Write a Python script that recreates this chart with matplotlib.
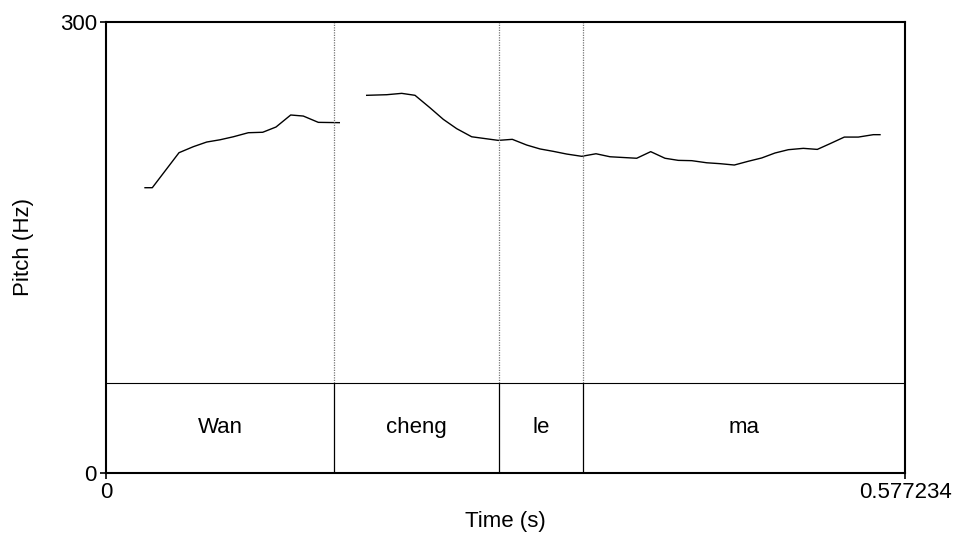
import matplotlib
matplotlib.use("Agg")
import matplotlib.pyplot as plt
import numpy as np

plt.rcParams['font.family'] = ['Liberation Sans', 'DejaVu Sans']

t_max = 0.577234
seg1_t = [0.02818, 0.03345, 0.05274, 0.06307, 0.07275, 0.08236, 0.09197, 0.10281,
          0.11321, 0.12282, 0.13344, 0.14254, 0.15338, 0.16855]
seg1_f = [189.7, 189.7, 213.0, 217.0, 220.1, 221.6, 223.6, 226.3,
          226.6, 230.1, 238.1, 237.4, 233.2, 233.0]
seg2_t = [0.18834, 0.20279, 0.21363, 0.22324, 0.23407, 0.24368, 0.25336, 0.26420,
          0.28342, 0.29353, 0.30394, 0.31354, 0.32315, 0.33284, 0.34367, 0.35400,
          0.36412, 0.38340, 0.39352, 0.40385, 0.41346, 0.42314, 0.43398, 0.44359,
          0.45392, 0.46403, 0.47371, 0.48332, 0.49293, 0.50377, 0.51388, 0.52305,
          0.53339, 0.54350, 0.55434, 0.55918]
seg2_f = [251.2, 251.6, 252.5, 251.2, 242.9, 235.2, 229.0, 223.6,
          221.2, 221.9, 218.1, 215.5, 213.9, 212.1, 210.6, 212.3,
          210.3, 209.3, 213.7, 209.3, 207.9, 207.7, 206.3, 205.7,
          204.8, 207.3, 209.5, 212.8, 215.0, 215.9, 215.2, 219.0,
          223.4, 223.4, 225.0, 225.0]

tier_top = 60
boundaries = [0.16472, 0.28392, 0.34461]
labels = ["Wan", "cheng", "le", "ma"]

FS = 16

fig = plt.figure(figsize=(9.57, 5.36), dpi=100)
ax = fig.add_axes([106/957, (536-472.7)/536, (905-106)/957, (472.7-22)/536])
ax.set_xlim(0, t_max)
ax.set_ylim(0, 300)

ax.plot(seg1_t, seg1_f, color='black', lw=1.0)
ax.plot(seg2_t, seg2_f, color='black', lw=1.0)

ax.axhline(tier_top, color='black', lw=0.8)
for b in boundaries:
    ax.plot([b, b], [tier_top, 300], color='#777777', lw=0.9, ls=(0, (1, 1)))
    ax.plot([b, b], [0, tier_top], color='black', lw=0.9)

edges = [0] + boundaries + [t_max]
for i, lab in enumerate(labels):
    ax.text((edges[i] + edges[i+1]) / 2, tier_top / 2, lab, ha='center', va='center', fontsize=FS)

ax.set_xticks([0, t_max])
ax.set_xticklabels(["0", "0.577234"])
ax.set_yticks([0, 300])
ax.set_yticklabels(["0", "300"])
ax.tick_params(direction='out', length=4.5, width=1.2, labelsize=FS, pad=2)
for s in ax.spines.values():
    s.set_linewidth(1.5)
ax.set_xlabel("Time (s)", fontsize=FS)
ax.set_ylabel("Pitch (Hz)", fontsize=FS)
ax.yaxis.set_label_coords((23.5 - 106) / 799, 0.5)
ax.yaxis.label.set_va('center')
ax.xaxis.set_label_coords(0.5, (472.7 - 521) / 450.7)
ax.xaxis.label.set_va('center')

fig.savefig("out.png", dpi=100)
